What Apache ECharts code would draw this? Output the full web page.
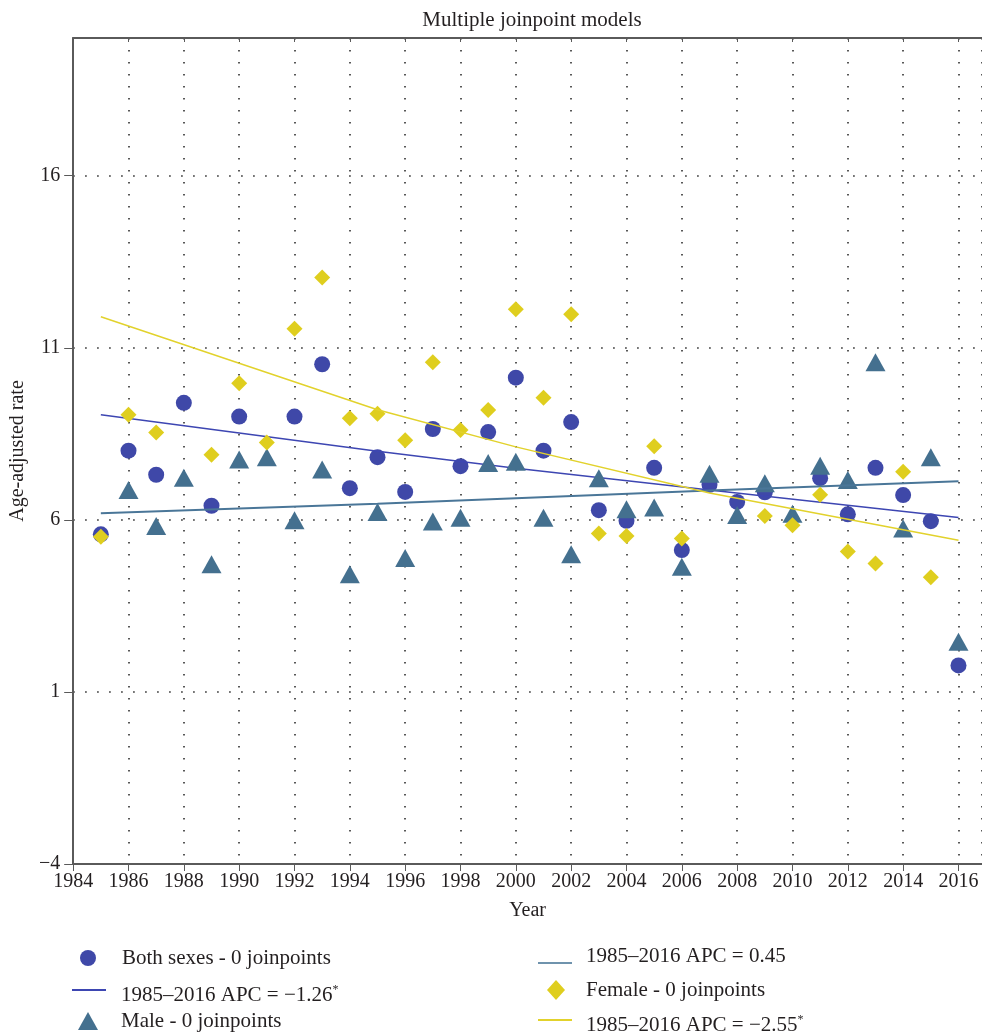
<!DOCTYPE html>
<html>
<head>
<meta charset="utf-8">
<script src="https://cdn.jsdelivr.net/npm/echarts@6/dist/echarts.min.js"></script>
<style>
html,body{margin:0;padding:0;background:#fff;}
#chart{width:982px;height:1034px;}
</style>
</head>
<body>
<div id="chart"></div>
<script>
// ---- data ----
const years = [1985,1986,1987,1988,1989,1990,1991,1992,1993,1994,1995,1996,1997,1998,1999,2000,
               2001,2002,2003,2004,2005,2006,2007,2008,2009,2010,2011,2012,2013,2014,2015,2016];
const bothSexes = [5.58,8.01,7.31,9.40,6.41,9.00,null,9.00,10.52,6.92,7.82,6.81,8.64,7.56,8.55,10.13,
                   8.01,8.84,6.28,5.97,7.51,5.12,7.02,6.52,6.80,null,7.21,6.16,7.51,6.72,5.96,1.77];
const male = [null,6.87,5.82,7.22,4.71,7.75,7.82,5.99,7.46,4.42,6.23,4.89,5.95,6.06,7.65,7.69,
              6.06,5.00,7.21,6.31,6.36,4.64,7.34,6.14,7.06,6.18,7.57,7.16,10.58,5.75,7.82,2.46];
const female = [5.51,9.05,8.54,null,7.89,9.97,8.25,11.55,13.04,8.95,9.08,8.31,10.58,8.61,9.19,12.12,
                9.55,11.97,5.60,5.53,8.14,5.46,null,null,6.11,5.84,6.73,5.08,4.73,7.40,4.33,null];
// fitted trend lines (read at a few years)
const trendYears = [1985,1995,2000,2007,2016];
const bothTrend = [9.05,7.99,7.50,6.87,6.07];
const maleTrend = [6.19,6.47,6.63,6.85,7.12];
const femaleTrend = [11.90,9.20,8.12,6.78,5.41];
const seriesNames = ['Both sexes - 0 joinpoints','1985–2016 APC = −1.26*','Male - 0 joinpoints',
                     '1985–2016 APC = 0.45','Female - 0 joinpoints','1985–2016 APC = −2.55*'];
const titleText = 'Multiple joinpoint models';
const xName = 'Year';
const yName = 'Age-adjusted rate';

// ---- build ----
const pairs = (xs, ys) => xs.map((x, i) => [x, ys[i]]).filter(p => p[1] !== null);
const FONT = 'Liberation Serif';
const TXT = '#231f20';
const C_BOTH = '#3f48a8', C_MALE = '#44708f', C_FEMALE = '#dfce1e';
const AX = '#5a5a5a';

const chart = echarts.init(document.getElementById('chart'));

function legendItem(name, icon, left, top, w, h, spacer) {
  return {
    data: [{name: name, icon: icon}],
    left: left, top: top, padding: 0, orient: 'horizontal',
    itemWidth: w, itemHeight: h, selectedMode: false,
    itemStyle: {opacity: 1},
    formatter: n => '{sp|}' + n.replace('*', '{sup|*}'),
    textStyle: {
      fontFamily: FONT, fontSize: 21, color: TXT, lineHeight: 22,
      rich: {
        sp: {width: spacer},
        sup: {fontSize: 12, verticalAlign: 'top', lineHeight: 22, fontFamily: FONT, color: TXT, padding: [0,0,10,0]}
      }
    }
  };
}
const lineIconUp = 'path://M0,0 H34 V2 H0 Z M0,12';
const lineIconDown = 'path://M0,0 M0,14 H34 V16 H0 Z';

const option = {
  animation: false,
  backgroundColor: '#fff',
  title: {
    text: titleText, left: 527, top: 5, textAlign: 'center',
    textStyle: {fontFamily: FONT, fontSize: 21, fontWeight: 'normal', color: TXT}
  },
  grid: {left: 72, top: 38, right: 0, bottom: 170, containLabel: false},
  xAxis: [{
    type: 'value', min: 1984, max: 2016.85, interval: 2,
    name: xName, nameLocation: 'middle', nameGap: 37,
    nameTextStyle: {fontFamily: FONT, fontSize: 20, color: TXT},
    axisLine: {show: true, onZero: false, lineStyle: {color: AX, width: 2}},
    axisTick: {show: true, length: 7, lineStyle: {color: AX, width: 1}},
    axisLabel: {fontFamily: FONT, fontSize: 20, color: TXT, margin: 8, showMaxLabel: false,
                formatter: v => String(v)},
    splitLine: {show: true, lineStyle: {color: '#222', width: 1.5, type: [1.5, 10.5]}}
  }, {
    type: 'value', position: 'top', min: 1984, max: 2016.85, interval: 2,
    axisLine: {show: true, onZero: false, lineStyle: {color: AX, width: 2}},
    axisTick: {show: true, inside: true, length: 4, lineStyle: {color: AX, width: 1}},
    axisLabel: {show: false}, splitLine: {show: false}
  }],
  yAxis: {
    type: 'value', min: -4, max: 20, interval: 5,
    name: yName, nameLocation: 'middle', nameGap: 39, nameRotate: 90,
    nameTextStyle: {fontFamily: FONT, fontSize: 20, color: TXT},
    axisLine: {show: true, onZero: false, lineStyle: {color: AX, width: 2}},
    axisTick: {show: true, length: 9, lineStyle: {color: AX, width: 1}},
    axisLabel: {fontFamily: FONT, fontSize: 20, color: TXT, margin: 13, showMaxLabel: false,
                formatter: v => String(v).replace('-', '−')},
    splitLine: {show: true, lineStyle: {color: '#222', width: 1.5, type: [1.5, 10.5]}}
  },
  legend: [
    legendItem(seriesNames[0], 'circle', 80, 947, 16, 16, 21),
    legendItem(seriesNames[1], lineIconUp, 72, 984, 34, 12, 10),
    legendItem(seriesNames[2], 'triangle', 78, 1010, 20, 18, 18),
    legendItem(seriesNames[3], lineIconDown, 538, 945, 34, 16, 9),
    legendItem(seriesNames[4], 'diamond', 547, 979, 18, 20, 16),
    legendItem(seriesNames[5], lineIconUp, 538, 1014, 34, 12, 9)
  ],
  series: [
    {name: seriesNames[0], type: 'scatter', data: pairs(years, bothSexes),
     symbol: 'circle', symbolSize: 16, itemStyle: {color: C_BOTH, opacity: 1}, z: 2},
    {name: seriesNames[1], type: 'line', data: pairs(trendYears, bothTrend),
     symbol: 'none', showSymbol: false, lineStyle: {color: '#3d46b2', width: 1.5}, itemStyle: {color: '#3d46b2'}, z: 3},
    {name: seriesNames[2], type: 'scatter', data: pairs(years, male),
     symbol: 'triangle', symbolSize: [20, 18], itemStyle: {color: C_MALE, opacity: 1}, z: 4},
    {name: seriesNames[3], type: 'line', data: pairs(trendYears, maleTrend),
     symbol: 'none', showSymbol: false, lineStyle: {color: '#4a7698', width: 2}, itemStyle: {color: '#6f93ad'}, z: 5},
    {name: seriesNames[4], type: 'scatter', data: pairs(years, female),
     symbol: 'diamond', symbolSize: 16, itemStyle: {color: C_FEMALE, opacity: 1}, z: 6},
    {name: seriesNames[5], type: 'line', data: pairs(trendYears, femaleTrend),
     symbol: 'none', showSymbol: false, lineStyle: {color: '#e2d22c', width: 1.5}, itemStyle: {color: '#e2d22c'}, z: 7}
  ]
};
chart.setOption(option);
</script>
</body>
</html>
